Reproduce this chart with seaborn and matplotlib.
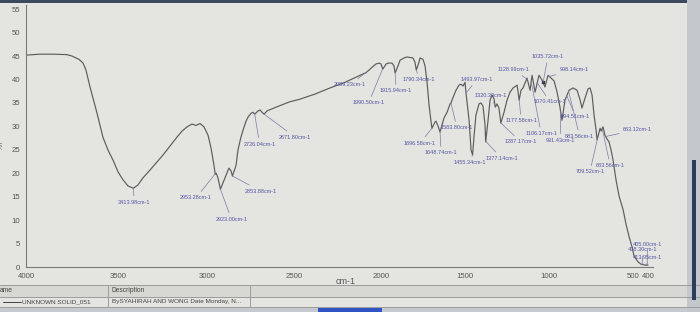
import numpy as np
import pandas as pd
import seaborn as sns
import matplotlib
matplotlib.use("Agg")
import matplotlib.pyplot as plt
from matplotlib.patches import Rectangle
from matplotlib.lines import Line2D

# ---------------- data ----------------
wavenumber = [4000, 3924, 3850, 3777, 3750, 3712, 3690, 3674, 3652, 3630, 3614, 3582, 3554, 3527,
              3500, 3472, 3444, 3414, 3388, 3360, 3320, 3281, 3247, 3208, 3169, 3140, 3112, 3084,
              3062, 3039, 3017, 2994, 2977, 2960, 2953, 2947, 2937, 2923, 2897, 2874, 2862, 2854,
              2833, 2822, 2805, 2793, 2776, 2764, 2747, 2736, 2726, 2707, 2695, 2684, 2672, 2655,
              2603, 2528, 2466, 2379, 2293, 2207, 2103, 2089, 2069, 2052, 2029, 2011, 2000, 1990,
              1970, 1958, 1935, 1923, 1916, 1899, 1887, 1863, 1845, 1810, 1798, 1790, 1774, 1768,
              1750, 1738, 1726, 1714, 1702, 1697, 1679, 1673, 1661, 1649, 1637, 1625, 1607, 1589,
              1584, 1571, 1554, 1536, 1524, 1512, 1500, 1494, 1476, 1464, 1455, 1446, 1435, 1417,
              1405, 1393, 1381, 1377, 1363, 1351, 1339, 1327, 1320, 1310, 1298, 1287, 1268, 1250,
              1232, 1214, 1190, 1178, 1167, 1155, 1131, 1113, 1101, 1083, 1060, 1042, 1024, 1006,
              988, 970, 952, 935, 923, 905, 881, 857, 833, 815, 804, 786, 768, 756, 744, 732, 720,
              714, 702, 696, 690, 679, 667, 655, 643, 631, 619, 601, 583, 559, 541, 523, 506, 493,
              467, 447, 420, 400]
transmittance = [45.2, 45.4, 45.4, 45.3, 45.0, 44.3, 43.5, 42.0, 38.4, 35.2, 32.8, 27.7, 24.9, 22.8,
                 20.3, 18.6, 17.3, 16.8, 17.5, 19.0, 20.7, 22.4, 23.9, 25.8, 27.7, 29.0, 29.9, 30.5,
                 30.2, 30.6, 29.9, 28.1, 25.4, 21.7, 19.8, 20.0, 19.0, 16.6, 19.0, 21.1, 20.5, 19.4,
                 21.7, 25.0, 27.7, 29.2, 31.1, 32.0, 32.8, 33.0, 32.6, 33.3, 33.5, 33.0, 32.6, 33.3,
                 34.1, 35.2, 35.8, 36.9, 38.2, 39.4, 41.2, 41.4, 42.0, 42.6, 43.3, 43.5, 43.3, 42.2,
                 43.3, 43.5, 43.5, 42.9, 41.4, 42.9, 44.1, 44.6, 44.8, 44.6, 43.7, 42.0, 43.7, 44.6,
                 44.3, 42.9, 39.4, 34.5, 30.9, 29.6, 30.9, 31.1, 30.1, 28.8, 30.3, 31.8, 33.0, 34.8,
                 35.0, 36.2, 37.7, 38.8, 39.0, 38.6, 39.4, 37.1, 31.3, 24.9, 23.9, 28.1, 32.4, 34.8,
                 35.0, 34.3, 30.3, 26.7, 31.3, 35.6, 36.7, 35.8, 34.1, 34.8, 33.9, 30.7, 33.0, 35.6,
                 37.3, 38.2, 38.8, 35.6, 37.7, 38.2, 40.3, 37.7, 40.9, 37.3, 40.9, 39.9, 38.4, 40.9,
                 40.3, 39.7, 37.3, 34.1, 31.3, 35.6, 37.7, 38.2, 37.7, 35.6, 33.9, 36.0, 38.0, 38.2,
                 36.7, 32.4, 29.2, 27.1, 28.8, 29.6, 29.0, 29.9, 28.1, 27.3, 26.7, 25.0, 22.8, 18.5,
                 15.1, 12.2, 9.0, 6.4, 4.3, 2.3, 1.1, 0.6, 0.4, 0.4]

peak_labels = ["3413.98cm-1", "2953.28cm-1", "2923.00cm-1", "2853.88cm-1", "2726.04cm-1",
               "2671.80cm-1", "2089.23cm-1", "1990.50cm-1", "1915.94cm-1", "1790.34cm-1",
               "1696.58cm-1", "1648.74cm-1", "1583.80cm-1", "1493.97cm-1", "1455.34cm-1",
               "1377.14cm-1", "1320.30cm-1", "1287.17cm-1", "1177.58cm-1", "1128.99cm-1",
               "1106.17cm-1", "1070.41cm-1", "1035.72cm-1", "998.14cm-1", "931.43cm-1",
               "894.51cm-1", "883.56cm-1", "663.12cm-1", "683.56cm-1", "709.52cm-1",
               "405.00cm-1", "438.30cm-1", "413.95cm-1"]
peak_wn = [3413.98, 2953.28, 2923.00, 2853.88, 2726.04, 2671.80, 2089.23, 1990.50, 1915.94,
           1790.34, 1696.58, 1648.74, 1583.80, 1493.97, 1455.34, 1377.14, 1320.30, 1287.17,
           1177.58, 1128.99, 1106.17, 1070.41, 1035.72, 998.14, 931.43, 894.51, 883.56, 663.12,
           683.56, 709.52, 405.00, 438.30, 413.95]

x_ticks = [4000, 3500, 3000, 2500, 2000, 1500, 1000, 500, 400]
x_tick_labels = ["4000", "3500", "3000", "2500", "2000", "1500", "1000", "500", "400"]
y_ticks = [0, 5, 10, 15, 20, 25, 30, 35, 40, 45, 50, 55]
y_tick_labels = [str(v) for v in y_ticks]

x_title = "cm-1"
table_header = ["ame", "Description"]
table_row = ["UNKNOWN SOLID_051", "BySYAHIRAH AND WONG Date Monday, N..."]

# ---------------- layout / style ----------------
# label offsets in pixels (dx, dy) from the marked point
label_offsets = [(1, -14), (-19, -24), (11, -30), (28, -15), (5, -30), (31, -23), (-16, -12),
                 (-14, -34), (1, -18), (3, -10), (-12, -15), (1, -21), (6, -25), (11, 14),
                 (-3, -8), (16, -17), (-4, 11), (20, -19), (2, -21), (-14, 10), (10, -52),
                 (13, -19), (5, 26), (25, 7), (0, -29), (9, -21), (11, -45), (32, 7), (8, -37),
                 (-8, -35), (0, 21), (0, 15), (1, 8)]

BG = "#e4e4e0"
LINE = "#5c5c5c"
LABEL = "#5454a6"
W, H = 700, 312

sns.set_style("white")
plt.rcParams["font.family"] = ["Liberation Sans", "DejaVu Sans"]

fig = plt.figure(figsize=(7.0, 3.12), dpi=100, facecolor=BG)

# axis of the photographed screen is slightly non-uniform
scale_wn = np.array([4200, 4000, 3500, 3000, 2500, 2000, 1500, 1000, 500, 400, 200], float)
scale_pos = np.array([-10.8, 26, 118, 207, 294, 381, 465, 549, 633, 648, 678], float)


def fwd(w):
    # increasing function of wavenumber
    return -np.interp(-np.asarray(w, float), -scale_wn, scale_pos)


def inv(q):
    return np.interp(-np.asarray(q, float), scale_pos, scale_wn)


left_px, right_px, bottom_px, top_px = 26, 653, 267, 4.5
ax = fig.add_axes([left_px / W, 1 - bottom_px / H, (right_px - left_px) / W,
                   (bottom_px - top_px) / H])
ax.set_facecolor(BG)
ax.set_xscale("function", functions=(fwd, inv))

df = pd.DataFrame({"wn": wavenumber, "T": transmittance})
sns.lineplot(data=df, x="wn", y="T", ax=ax, color=LINE, lw=0.85, sort=False,
             estimator=None)

ax.set_xlim(4000, 367)
ax.set_ylim(0, 56)
ax.set_xticks(x_ticks)
ax.set_xticklabels(x_tick_labels)
ax.set_yticks(y_ticks)
ax.set_yticklabels(y_tick_labels)
ax.minorticks_off()
ax.set_xlabel("")
ax.set_ylabel("")
for s in ["top", "right"]:
    ax.spines[s].set_visible(False)
for s in ["left", "bottom"]:
    ax.spines[s].set_color("#7a7a7a")
    ax.spines[s].set_linewidth(0.8)
ax.tick_params(axis="both", direction="out", length=2.5, width=0.6, color="#7a7a7a",
               labelsize=5.6, labelcolor="#555555", pad=1.5)

# peak annotations
wn_arr = np.array(wavenumber, float)
t_arr = np.array(transmittance, float)
for lab, w, (dx, dy) in zip(peak_labels, peak_wn, label_offsets):
    t = np.interp(-w, -wn_arr, t_arr)
    ax.annotate(lab, xy=(w, t), xytext=(dx, dy), textcoords="offset pixels",
                ha="center", va="center", fontsize=4.0, color=LABEL,
                arrowprops=dict(arrowstyle="-", color="#7a7aa8", lw=0.5,
                                shrinkA=0.5, shrinkB=0))

# small marker drawn by the software at the 1035.72 label
t_mark = np.interp(-1035.72, -wn_arr, t_arr)
ax.plot([1035.72], [t_mark], marker="s", ms=1.8, color="#333344", lw=0)

# axis title
fig.text(346 / W, 1 - 281 / H, x_title, fontsize=6.5, color="#555555", ha="center", va="center")
# y title, mostly cut off at the left edge of the photo
fig.text(1 / W, 1 - 145 / H, "%T", fontsize=5, color="#666666", rotation=90,
         ha="center", va="center")


def fy(y):
    return 1 - y / H


# bottom table
fig.patches.append(Rectangle((0, fy(297)), 1, 12 / H, transform=fig.transFigure,
                             facecolor="#d7d7d4", edgecolor="none", zorder=0))
for yy in (285, 297, 307):
    fig.lines.append(Line2D([0, 1], [fy(yy), fy(yy)], transform=fig.transFigure,
                            color="#9c9c9c", lw=0.7))
for xx in (108, 250):
    fig.lines.append(Line2D([xx / W, xx / W], [fy(285), fy(307)], transform=fig.transFigure,
                            color="#9c9c9c", lw=0.7))
fig.text(0 / W, fy(291), table_header[0], fontsize=4.8, color="#444444", va="center")
fig.text(112 / W, fy(291), table_header[1], fontsize=4.8, color="#444444", va="center")
fig.lines.append(Line2D([3 / W, 21 / W], [fy(302), fy(302)], transform=fig.transFigure,
                        color="#444444", lw=0.7))
fig.text(22 / W, fy(302), table_row[0], fontsize=4.6, color="#444444", va="center")
fig.text(112 / W, fy(302), table_row[1], fontsize=4.6, color="#444444", va="center")

# photo edges of the screen
fig.patches.append(Rectangle((0, fy(312)), 1, 5 / H, transform=fig.transFigure,
                             facecolor="#c6c9cf", edgecolor="none", zorder=0))
fig.patches.append(Rectangle((318 / W, fy(312)), 64 / W, 4 / H, transform=fig.transFigure,
                             facecolor="#2f55c4", edgecolor="none", zorder=1))
fig.patches.append(Rectangle((0, fy(3)), 1, 3 / H, transform=fig.transFigure,
                             facecolor="#3d4a5e", edgecolor="none", zorder=1))
fig.patches.append(Rectangle((687 / W, 0), 13 / W, 1, transform=fig.transFigure,
                             facecolor="#c4c7cc", edgecolor="none", zorder=1))
fig.patches.append(Rectangle((692 / W, fy(300)), 4 / W, 140 / H, transform=fig.transFigure,
                             facecolor="#2d3c5c", edgecolor="none", zorder=2))

fig.savefig("out.png", dpi=100, facecolor=BG)
